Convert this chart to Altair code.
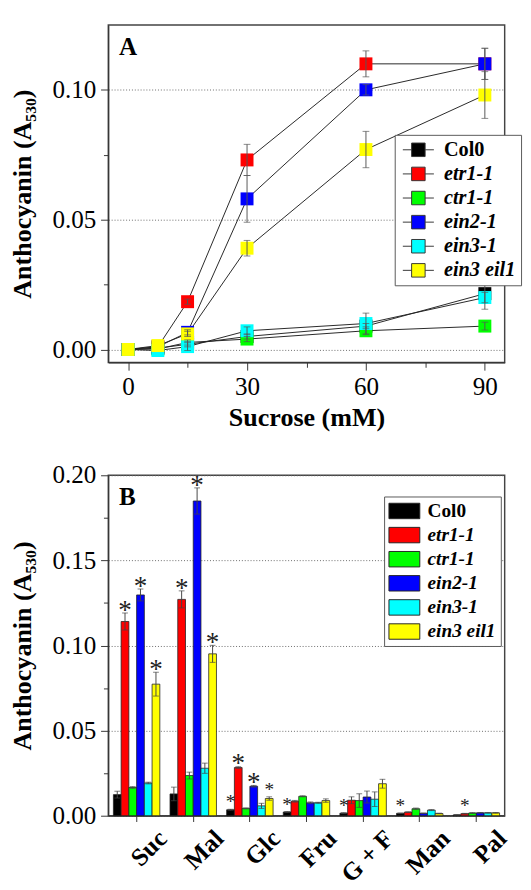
import altair as alt
import pandas as pd

# ---------------- data ----------------
series = ["Col0", "etr1-1", "ctr1-1", "ein2-1", "ein3-1", "ein3 eil1"]
colors = ["#000000", "#ff0000", "#00ff00", "#0000ff", "#00ffff", "#ffff00"]

# Panel A: anthocyanin vs sucrose concentration
sucrose_mM = [0, 7.5, 15, 30, 60, 90]
a_col0 = [0.0, 0.0005, 0.0020, 0.0050, 0.0090, 0.0215]
a_etr1 = [0.0, 0.0010, 0.0184, 0.0730, 0.1100, 0.1100]
a_ctr1 = [0.0, 0.0002, 0.0027, 0.0040, 0.0072, 0.0090]
a_ein2 = [0.0, 0.0010, 0.0066, 0.0580, 0.1000, 0.1100]
a_ein3 = [0.0, -0.0004, 0.0011, 0.0072, 0.0100, 0.0200]
a_eil1 = [0.0, 0.0015, 0.0060, 0.0390, 0.0770, 0.0980]

a_col0_err = [0, 0, 0.0010, 0.0010, 0.0010, 0.0060]
a_etr1_err = [0, 0, 0.0010, 0.0060, 0.0050, 0.0060]
a_ctr1_err = [0, 0, 0.0010, 0.0010, 0.0015, 0.0015]
a_ein2_err = [0, 0, 0.0010, 0.0090, 0.0020, 0.0060]
a_ein3_err = [0, 0, 0.0015, 0.0015, 0.0040, 0.0020]
a_eil1_err = [0, 0, 0.0010, 0.0030, 0.0070, 0.0090]

# Panel B: anthocyanin with different sugars
sugars = ["Suc", "Mal", "Glc", "Fru", "G + F", "Man", "Pal"]
b_col0 = [0.0124, 0.0128, 0.0035, 0.0022, 0.0015, 0.0014, 0.0005]
b_etr1 = [0.1141, 0.1271, 0.0283, 0.0085, 0.0091, 0.0021, 0.0012]
b_ctr1 = [0.0166, 0.0236, 0.0043, 0.0114, 0.0089, 0.0041, 0.0016]
b_ein2 = [0.1297, 0.1849, 0.0173, 0.0076, 0.0110, 0.0014, 0.0017]
b_ein3 = [0.0192, 0.0279, 0.0058, 0.0076, 0.0097, 0.0033, 0.0017]
b_eil1 = [0.0773, 0.0951, 0.0101, 0.0089, 0.0188, 0.0013, 0.0017]

b_col0_err = [0.0020, 0.0040, 0.0003, 0.0003, 0.0003, 0.0002, 0.0001]
b_etr1_err = [0.0050, 0.0050, 0.0005, 0.0005, 0.0020, 0.0002, 0.0002]
b_ctr1_err = [0.0005, 0.0020, 0.0003, 0.0003, 0.0040, 0.0004, 0.0002]
b_ein2_err = [0.0035, 0.0077, 0.0005, 0.0005, 0.0035, 0.0002, 0.0002]
b_ein3_err = [0.0005, 0.0030, 0.0015, 0.0003, 0.0043, 0.0003, 0.0002]
b_eil1_err = [0.0070, 0.0050, 0.0010, 0.0010, 0.0026, 0.0002, 0.0002]

# significance marks (sugar, genotype)
big_stars = [("Suc", "etr1-1"), ("Suc", "ein2-1"), ("Suc", "ein3 eil1"),
             ("Mal", "etr1-1"), ("Mal", "ein2-1"), ("Mal", "ein3 eil1"),
             ("Glc", "etr1-1"), ("Glc", "ein2-1")]
small_stars = [("Glc", "Col0"), ("Glc", "ein3 eil1"), ("Fru", "Col0"),
               ("G + F", "Col0"), ("Man", "Col0"), ("Pal", "etr1-1")]

a_vals = [a_col0, a_etr1, a_ctr1, a_ein2, a_ein3, a_eil1]
a_errs = [a_col0_err, a_etr1_err, a_ctr1_err, a_ein2_err, a_ein3_err, a_eil1_err]
b_vals = [b_col0, b_etr1, b_ctr1, b_ein2, b_ein3, b_eil1]
b_errs = [b_col0_err, b_etr1_err, b_ctr1_err, b_ein2_err, b_ein3_err, b_eil1_err]

rowsA = []
for si, s in enumerate(series):
    for x, v, e in zip(sucrose_mM, a_vals[si], a_errs[si]):
        rowsA.append({"series": s, "k": si, "x": x, "y": v, "err": e,
                      "lo": v - e, "hi": v + e})
dfA = pd.DataFrame(rowsA)

rowsB = []
for si, s in enumerate(series):
    for g, v, e in zip(sugars, b_vals[si], b_errs[si]):
        star = "big" if (g, s) in big_stars else ("small" if (g, s) in small_stars else "")
        rowsB.append({"sugar": g, "series": s, "val": v, "err": e,
                      "lo": v - e, "hi": v + e, "star": star})
dfB = pd.DataFrame(rowsB)

FONT = "Liberation Serif"
GRID = "#666666"
AX = "#333333"

label_style = {"expr": "datum.label == 'Col0' ? 'normal' : 'italic'"}

# ---------------- Panel A ----------------
xA = alt.X("x:Q", scale=alt.Scale(domain=[-5, 95], nice=False, zero=False),
           axis=alt.Axis(values=[0, 15, 30, 45, 60, 75, 90],
                         labelExpr="datum.value % 30 == 0 ? datum.label : ''",
                         tickSize={"condition": {"test": "datum.value % 30 != 0", "value": 5}, "value": 8},
                         grid=False, title="Sucrose (mM)", titlePadding=6, labelPadding=4))
yA = alt.Y("y:Q", scale=alt.Scale(domain=[-0.005, 0.125], nice=False, zero=False),
           axis=alt.Axis(values=[0, 0.025, 0.05, 0.075, 0.1], format=".2f",
                         labelExpr="round(datum.value*1000) % 50 == 0 ? datum.label : ''",
                         tickSize={"condition": {"test": "round(datum.value*1000) % 50 != 0", "value": 5}, "value": 8},
                         grid=True, gridDash=[1, 2], gridColor=GRID,
                         gridOpacity={"condition": {"test": "round(datum.value*1000) % 50 != 0", "value": 0}, "value": 1},
                         title="Anthocyanin (A₅₃₀)", titlePadding=16))

baseA = alt.Chart(dfA)
lines = baseA.mark_line(color="#222222", strokeWidth=1).encode(
    x=xA, y=yA, detail="series:N", order="x:Q")

symA = "M-2.3,0H-1M1,0H2.3M-1,-1H1V1H-1Z"
points = baseA.mark_square(size=180, opacity=1).encode(
    x=xA, y=yA,
    fill=alt.Fill("series:N", scale=alt.Scale(domain=series, range=colors),
                  legend=alt.Legend(title=None, orient="none", legendX=297, legendY=114,
                                    symbolType=symA, symbolSize=196,
                                    symbolStrokeColor="#333333", symbolStrokeWidth=1,
                                    symbolOffset=9, labelOffset=16,
                                    labelFont=FONT, labelFontSize=21, labelFontWeight="bold",
                                    labelFontStyle=label_style, labelColor="black",
                                    padding=5, rowPadding=3,
                                    strokeColor="#555555", fillColor="white")),
    order=alt.Order("k:Q"))

errA = baseA.transform_filter("datum.err > 0")
err_rule = errA.mark_rule(color="#555555", strokeWidth=1).encode(
    x="x:Q", y="lo:Q", y2="hi:Q")
cap_hi = errA.mark_tick(orient="horizontal", size=7, thickness=1, color="#555555").encode(
    x="x:Q", y="hi:Q")
cap_lo = errA.mark_tick(orient="horizontal", size=7, thickness=1, color="#555555").encode(
    x="x:Q", y="lo:Q")

letterA = alt.Chart(pd.DataFrame({"t": ["A"]})).mark_text(
    font=FONT, fontWeight="bold", fontSize=26, align="left", baseline="top", color="black"
).encode(text="t:N", x=alt.value(11), y=alt.value(10))

chartA = alt.layer(lines, points, err_rule, cap_hi, cap_lo, letterA).properties(
    width=411, height=350)

# ---------------- Panel B ----------------
xB = alt.X("sugar:N", sort=sugars,
           scale=alt.Scale(paddingInner=0.18, paddingOuter=0.09),
           axis=alt.Axis(title=None, labelAngle=-45, labelAlign="right", labelBaseline="top",
                         labelFontWeight="bold", labelFontSize=26, tickSize=6,
                         labelPadding=4, labelOffset=18))
xOff = alt.XOffset("series:N", sort=series, scale=alt.Scale(domain=series, paddingInner=0, paddingOuter=0))
yB = alt.Y("val:Q", scale=alt.Scale(domain=[0, 0.2], nice=False),
           axis=alt.Axis(values=[0, 0.025, 0.05, 0.075, 0.1, 0.125, 0.15, 0.175, 0.2], format=".2f",
                         labelExpr="round(datum.value*1000) % 50 == 0 ? datum.label : ''",
                         tickSize={"condition": {"test": "round(datum.value*1000) % 50 != 0", "value": 5}, "value": 8},
                         grid=True, gridDash=[1, 2], gridColor=GRID,
                         gridOpacity={"condition": {"test": "round(datum.value*1000) % 50 != 0", "value": 0}, "value": 1},
                         title="Anthocyanin (A₅₃₀)", titlePadding=16))

baseB = alt.Chart(dfB)
bars = baseB.mark_bar(stroke="#222222", strokeWidth=0.8).encode(
    x=xB, xOffset=xOff, y=yB,
    fill=alt.Fill("series:N", scale=alt.Scale(domain=series, range=colors),
                  legend=alt.Legend(title=None, orient="none", legendX=286, legendY=22,
                                    symbolType="M-2,-1H2V1H-2Z", symbolSize=256,
                                    symbolStrokeColor="#222222", symbolStrokeWidth=1,
                                    symbolOffset=6, labelOffset=14,
                                    labelFont=FONT, labelFontSize=20, labelFontWeight="bold",
                                    labelFontStyle=label_style, labelColor="black",
                                    padding=5, rowPadding=5,
                                    strokeColor="#555555", fillColor="white")))

errB_rule = baseB.mark_rule(color="#444444", strokeWidth=1).encode(
    x=xB, xOffset=xOff, y="lo:Q", y2="hi:Q")
errB_hi = baseB.mark_tick(orient="horizontal", size=6, thickness=1, color="#444444").encode(
    x=xB, xOffset=xOff, y="hi:Q")
errB_lo = baseB.mark_tick(orient="horizontal", size=6, thickness=1, color="#444444").encode(
    x=xB, xOffset=xOff, y="lo:Q")

stars_big = baseB.transform_filter("datum.star == 'big'").mark_text(
    text="*", font=FONT, fontSize=28, baseline="alphabetic", dy=6, color="#222222").encode(
    x=xB, xOffset=xOff, y="hi:Q")
stars_small = baseB.transform_filter("datum.star == 'small'").mark_text(
    text="*", font=FONT, fontSize=20, baseline="alphabetic", dy=-1, color="#222222").encode(
    x=xB, xOffset=xOff, y="hi:Q")

letterB = alt.Chart(pd.DataFrame({"t": ["B"]})).mark_text(
    font=FONT, fontWeight="bold", fontSize=26, align="left", baseline="top", color="black"
).encode(text="t:N", x=alt.value(11), y=alt.value(10))

chartB = alt.layer(bars, errB_rule, errB_hi, errB_lo, stars_big, stars_small, letterB).properties(
    width=411, height=353)

chart = alt.vconcat(chartA, chartB, spacing=32).resolve_scale(fill="independent").properties(
    padding=0
).configure_view(
    stroke="#444444", strokeWidth=1.5
).configure_axis(
    labelFont=FONT, labelFontSize=26, labelColor="black", labelPadding=5,
    titleFont=FONT, titleFontSize=27, titleFontWeight="bold", titleColor="black",
    tickColor=AX, domainColor=AX, domainWidth=1.2, tickWidth=1
).configure_legend(
    labelLimit=0
)

chart.save("out.html", embed_options={"renderer": "svg", "actions": False})
